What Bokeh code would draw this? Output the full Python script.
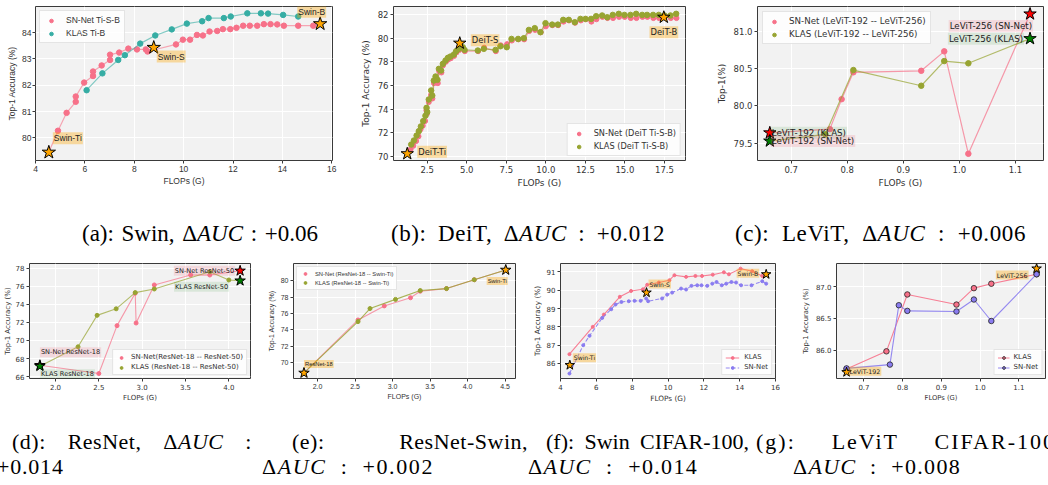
from bokeh.plotting import figure
from bokeh.models import Range1d, Label, FixedTicker, PrintfTickFormatter, Div
from bokeh.layouts import row, column
from bokeh.embed import file_html
from bokeh.resources import INLINE

# ---------------- data ----------------
# (a) Swin, ImageNet
swin_sn_flops = [4.54, 4.91, 5.26, 5.63, 5.63, 5.97, 6.33, 6.33, 6.68, 7.02, 7.02, 7.39, 7.76, 8.11,
                 8.47, 8.54, 9.69, 9.97, 10.26, 10.54, 10.78, 11.05, 11.36, 11.59, 11.89, 12.14,
                 12.41, 12.68, 12.98, 13.25, 13.52, 13.79, 14.06, 14.64, 15.25, 15.53]
swin_sn_acc = [79.45, 80.27, 80.95, 81.37, 81.57, 82.10, 82.35, 82.52, 82.75, 82.96, 83.16, 83.24,
               83.39, 83.36, 83.36, 83.28, 83.55, 83.73, 83.73, 83.91, 83.89, 84.04, 84.06, 84.13,
               84.13, 84.18, 84.26, 84.26, 84.26, 84.32, 84.32, 84.31, 84.26, 84.26, 84.26, 84.33]
swin_kl_flops = [6.07, 6.71, 7.35, 7.62, 8.24, 8.85, 9.52, 10.13, 10.75, 11.01, 11.63, 11.91,
                 12.58, 13.13, 13.42, 14.03, 14.64]
swin_kl_acc = [81.81, 82.45, 82.96, 83.14, 83.58, 83.89, 84.12, 84.34, 84.43, 84.55, 84.55, 84.61,
               84.73, 84.73, 84.72, 84.67, 84.61]
swin_anchor_flops = [4.54, 8.79, 15.53]
swin_anchor_acc = [79.45, 83.43, 84.33]
swin_anchor_names = ["Swin-Ti", "Swin-S", "Swin-B"]

# (b) DeiT
deit_kl_flops = [1.49, 1.66, 1.83, 1.97, 2.10, 2.25, 2.39, 2.50, 2.46, 2.60, 2.75, 2.82, 2.92, 3.03,
                 3.15, 3.24, 3.38, 3.49, 3.66, 3.81, 3.97, 4.19, 4.33, 4.50, 4.75, 4.86, 5.70, 6.08,
                 6.82, 7.13, 7.53, 7.83, 8.25, 8.61, 8.93, 9.30, 9.66, 9.98, 10.40, 10.76, 11.10,
                 11.45, 11.83, 12.19, 12.51, 12.86, 13.18, 13.56, 13.88, 14.23, 14.61, 14.97, 15.35,
                 15.71, 16.09, 16.40, 16.78, 17.14, 17.50, 17.88, 18.24]
deit_kl_acc = [71.01, 71.35, 71.77, 72.14, 72.54, 72.99, 73.44, 73.75, 74.11, 74.82, 75.58, 75.15,
               76.42, 76.76, 76.48, 77.41, 77.27, 77.83, 78.11, 78.34, 78.45, 78.62, 78.90, 79.10,
               79.24, 79.01, 78.96, 79.10, 79.01, 79.32, 79.24, 79.94, 79.94, 80.00, 80.70, 80.85,
               80.51, 81.27, 81.15, 81.15, 81.55, 81.55, 81.35, 81.63, 81.63, 81.63, 81.86, 81.92,
               81.77, 81.97, 82.06, 81.97, 81.97, 82.06, 81.97, 81.97, 81.97, 81.97, 81.92, 81.92, 82.06]
deit_sn_flops = [1.45, 1.62, 1.80, 1.95, 2.08, 2.22, 2.37, 2.48, 2.45, 2.60, 2.74, 2.83, 2.93, 3.05,
                 3.17, 3.26, 3.40, 3.50, 3.68, 3.83, 3.99, 4.20, 4.35, 4.52, 4.76, 4.88, 5.72, 6.10,
                 6.84, 7.15, 7.55, 7.85, 8.27, 8.63, 8.95, 9.32, 9.68, 10.00, 10.42, 10.78, 11.12,
                 11.47, 11.85, 12.21, 12.53, 12.88, 13.20, 13.58, 13.90, 14.25, 14.63, 14.99, 15.37,
                 15.73, 16.11, 16.42, 16.80, 17.16, 17.52, 17.90, 18.26]
deit_sn_acc = [70.6, 70.9, 71.3, 71.7, 72.3, 72.6, 73.0, 73.6, 73.9, 74.6, 75.2, 74.9, 76.2, 76.5,
               76.2, 77.2, 77.1, 77.7, 78.0, 78.2, 78.3, 78.5, 78.8, 79.0, 79.1, 78.9, 78.9, 79.2,
               78.9, 79.4, 79.5, 79.8, 79.9, 79.9, 80.6, 80.7, 80.5, 81.0, 81.1, 81.1, 81.4, 81.5,
               81.3, 81.5, 81.6, 81.4, 81.6, 81.8, 81.7, 81.7, 81.8, 81.8, 81.7, 81.7, 81.8, 81.8,
               81.7, 81.7, 81.8, 81.7, 81.7]
deit_anchor_flops = [1.24, 4.56, 17.46]
deit_anchor_acc = [70.23, 79.58, 81.77]
deit_anchor_names = ["DeiT-Ti", "DeiT-S", "DeiT-B"]

# (c) LeViT
levit_sn_flops = [0.662, 0.769, 0.790, 0.811, 0.932, 0.973, 1.016, 1.126]
levit_sn_acc = [79.64, 79.69, 80.09, 80.45, 80.47, 80.73, 79.36, 81.23]
levit_kl_flops = [0.662, 0.761, 0.811, 0.932, 0.973, 1.016, 1.126]
levit_kl_acc = [79.53, 79.62, 80.48, 80.27, 80.60, 80.57, 80.90]

# (d) ResNet
resnet_sn_flops = [1.82, 2.50, 2.71, 2.92, 2.93, 3.14, 3.56, 3.78, 4.13]
resnet_sn_acc = [67.25, 66.33, 71.65, 75.25, 71.94, 76.17, 77.27, 77.27, 77.74]
resnet_kl_flops = [1.82, 2.26, 2.48, 2.70, 2.92, 3.14, 3.78, 4.00, 4.13]
resnet_kl_acc = [67.15, 69.30, 72.79, 73.52, 75.32, 75.72, 77.63, 76.72, 76.64]

# (e) ResNet-Swin
rs_sn_flops = [1.82, 2.54, 2.89, 3.24, 3.37, 3.72, 4.09, 4.51]
rs_sn_acc = [68.72, 75.20, 76.92, 77.92, 78.72, 79.04, 80.12, 81.32]
rs_kl_flops = [1.82, 2.54, 2.70, 3.04, 3.37, 3.72, 4.09, 4.51]
rs_kl_acc = [68.72, 75.00, 76.60, 77.72, 78.80, 79.04, 80.12, 81.32]
rs_anchor_names = ["ResNet-18", "Swin-Ti"]

# (f) Swin CIFAR-100
cswin_kl_flops = [4.5, 5.8, 6.42, 7.31, 7.94, 8.6, 8.84, 9.49, 10.08, 10.36, 11.01, 11.53, 11.9,
                  12.5, 13.12, 13.4, 14.05, 14.7, 15.26]
cswin_kl_acc = [86.51, 88.0, 88.67, 89.64, 89.96, 90.05, 90.3, 90.42, 90.55, 90.82, 90.73, 90.78,
                90.78, 90.85, 90.98, 90.87, 91.18, 91.04, 90.78]
cswin_sn_flops = [4.5, 5.27, 5.62, 6.33, 6.83, 7.07, 7.4, 7.81, 8.13, 8.47, 8.78, 8.89, 9.67, 9.95,
                  10.23, 10.73, 11.01, 11.31, 11.63, 11.87, 12.19, 12.47, 12.71, 13.0, 13.25,
                  13.54, 13.8, 14.08, 14.66, 15.26, 15.48]
cswin_sn_acc = [85.45, 87.0, 87.51, 88.49, 88.96, 89.22, 89.36, 89.4, 89.42, 89.42, 89.55, 89.4,
                89.55, 89.76, 89.87, 90.09, 90.04, 90.24, 90.27, 90.27, 90.24, 90.36, 90.45,
                90.27, 90.36, 90.45, 90.42, 90.27, 90.27, 90.49, 90.36]
cswin_anchor_flops = [4.52, 8.80, 15.48]
cswin_anchor_acc = [85.91, 89.87, 90.87]
cswin_anchor_names = ["Swin-Ti", "Swin-S", "Swin-B"]

# (g) LeViT CIFAR-100
clevit_kl_flops = [0.655, 0.758, 0.812, 0.939, 0.984, 1.029, 1.146]
clevit_kl_acc = [85.70, 85.98, 86.88, 86.72, 86.98, 87.05, 87.20]
clevit_sn_flops = [0.655, 0.767, 0.790, 0.812, 0.939, 0.984, 1.029, 1.146]
clevit_sn_acc = [85.71, 85.77, 86.71, 86.62, 86.61, 86.80, 86.46, 87.20]
clevit_anchor_flops = [0.655, 1.146]
clevit_anchor_acc = [85.65, 87.29]
clevit_anchor_names = ["LeViT-192", "LeViT-256"]

# ticks
a_xticks = [4, 6, 8, 10, 12, 14, 16]; a_yticks = [80, 81, 82, 83, 84]
b_xticks = [2.5, 5.0, 7.5, 10.0, 12.5, 15.0, 17.5]; b_yticks = [70, 72, 74, 76, 78, 80, 82]
c_xticks = [0.7, 0.8, 0.9, 1.0, 1.1]; c_yticks = [79.5, 80.0, 80.5, 81.0]
d_xticks = [2.0, 2.5, 3.0, 3.5, 4.0]; d_yticks = [66, 68, 70, 72, 74, 76, 78]
e_xticks = [2.0, 2.5, 3.0, 3.5, 4.0, 4.5]; e_yticks = [70, 72, 74, 76, 78, 80]
f_xticks = [4, 6, 8, 10, 12, 14, 16]; f_yticks = [86, 87, 88, 89, 90, 91]
g_xticks = [0.7, 0.8, 0.9, 1.0, 1.1]; g_yticks = [86.0, 86.5, 87.0]

# captions: (text, left, right, letter-spacing)
caption_top = [("(a): Swin, &Delta;<i>AUC</i> : +0.06", 82, 318, 0),
               ("(b): DeiT, &Delta;<i>AUC</i> : +0.012", 391, 665, 0.6),
               ("(c): LeViT, &Delta;<i>AUC</i> : +0.006", 735, 1026, 0.6)]
caption_bot1 = [("(d): ResNet, &Delta;<i>AUC</i> :", 12, 252, 0.5),
                ("(e): ResNet-Swin,", 292, 528, 0.5),
                ("(f): Swin CIFAR-100,", 546, 749, 0),
                ("(g): LeViT CIFAR-100", 756, 1056, 2.0)]
caption_bot2 = [("+0.014", -3, 66, 0.8),
                ("&Delta;<i>AUC</i> : +0.002", 262, 434, 1.6),
                ("&Delta;<i>AUC</i> : +0.014", 528, 698, 1.3),
                ("&Delta;<i>AUC</i> : +0.008", 793, 961, 1.3)]

# ---------------- styling ----------------
PINK = "#f77189"
TEAL = "#36ada4"
OLIVE = "#97a431"
PURPLE = "#8a7cf0"
ORANGE = "#ffa500"
BG = "#f2f2f2"
TXT = "#333333"


def base(width, height, borders, xr, yr, font, tick_fs, lab_fs, xlabel, ylabel,
         xticks, yticks, xfmt, yfmt, stand):
    l, r, t, b = borders
    p = figure(width=width, height=height, title=None,
               x_range=Range1d(*xr), y_range=Range1d(*yr),
               output_backend="svg", toolbar_location=None,
               min_border_left=l, min_border_right=r, min_border_top=t, min_border_bottom=b,
               background_fill_color=BG, border_fill_color="white",
               outline_line_color="#3a3a3a", outline_line_width=1)
    p.grid.grid_line_color = "white"
    p.grid.grid_line_width = 1
    p.xaxis.ticker = FixedTicker(ticks=xticks)
    p.yaxis.ticker = FixedTicker(ticks=yticks)
    p.xaxis.formatter = PrintfTickFormatter(format=xfmt)
    p.yaxis.formatter = PrintfTickFormatter(format=yfmt)
    p.xaxis.axis_label = xlabel
    p.yaxis.axis_label = ylabel
    for ax in (p.xaxis[0], p.yaxis[0]):
        ax.axis_line_color = None
        ax.major_tick_line_color = "#3a3a3a"
        ax.major_tick_in = 0
        ax.major_tick_out = 3
        ax.minor_tick_line_color = None
        ax.major_label_text_font = font
        ax.major_label_text_font_size = f"{tick_fs}px"
        ax.major_label_text_color = TXT
        ax.axis_label_text_font = font
        ax.axis_label_text_font_size = f"{lab_fs}px"
        ax.axis_label_text_font_style = "normal"
        ax.axis_label_text_color = TXT
    p.xaxis.major_label_standoff = stand[0]
    p.xaxis.axis_label_standoff = stand[1]
    p.yaxis.major_label_standoff = stand[2]
    p.yaxis.axis_label_standoff = stand[3]
    return p


def style_legend(p, loc, font, fs, padding, gw, gh, standoff, spacing, lh, margin):
    lg = p.legend[0]
    lg.location = loc
    lg.label_text_font = font
    lg.label_text_font_size = f"{fs}px"
    lg.label_text_color = TXT
    lg.padding = padding
    lg.glyph_width = gw
    lg.glyph_height = gh
    lg.label_standoff = standoff
    lg.spacing = spacing
    lg.label_height = lh
    lg.margin = margin
    lg.border_line_color = "#cccccc"
    lg.background_fill_color = "white"
    lg.background_fill_alpha = 0.8


def tag(p, x, y, text, align, baseline, dx, dy, bg, alpha, font, fs):
    p.add_layout(Label(x=x, y=y, text=text, text_align=align, text_baseline=baseline,
                       x_offset=dx, y_offset=dy, text_font=font, text_font_size=f"{fs}px",
                       text_color="#222222", background_fill_color=bg,
                       background_fill_alpha=alpha, padding=1))


def stars(p, xs, ys, color, size):
    p.scatter(xs, ys, marker="star", size=size, fill_color=color, line_color="black", line_width=1)


# ---------------- (a) ----------------
FA = "Liberation Sans"
fa = base(345, 200, (35, 13, 4, 37), (4, 16.03), (79.14, 84.99), FA, 8.5, 8.5,
          "FLOPs (G)", "Top-1 Accuracy (%)", a_xticks, a_yticks, "%d", "%d", (2, 1, 1, 2))
fa.line(swin_sn_flops, swin_sn_acc, line_color=PINK, line_width=1.2, line_alpha=0.6)
fa.scatter(swin_sn_flops[1:-1], swin_sn_acc[1:-1], size=5.5, fill_color=PINK, line_color=PINK,
           legend_label="SN-Net Ti-S-B")
fa.line(swin_kl_flops, swin_kl_acc, line_color=TEAL, line_width=1.2, line_alpha=0.6)
fa.scatter(swin_kl_flops, swin_kl_acc, size=5.5, fill_color=TEAL, line_color=TEAL,
           legend_label="KLAS Ti-B")
stars(fa, swin_anchor_flops, swin_anchor_acc, ORANGE, 14)
style_legend(fa, "top_left", FA, 8.5, 4, 14, 9, 8, 3, 9, 4)
tag(fa, swin_anchor_flops[0], swin_anchor_acc[0], swin_anchor_names[0], "left", "bottom", 4, 8, ORANGE, 0.35, FA, 8.5)
tag(fa, swin_anchor_flops[1], swin_anchor_acc[1], swin_anchor_names[1], "left", "top", 3, -3, ORANGE, 0.35, FA, 8.5)
tag(fa, swin_anchor_flops[2], swin_anchor_acc[2], swin_anchor_names[2], "right", "bottom", 6, 6, ORANGE, 0.35, FA, 8.5)

# ---------------- (b) ----------------
FD = "DejaVu Sans"
fb = base(345, 200, (48, 5, 6, 40), (0.37, 18.83), (69.66, 82.68), FD, 8.5, 9,
          "FLOPs (G)", "Top-1 Accuracy (%)", b_xticks, b_yticks, "%.1f", "%d", (2, 2, 2, 4))
fb.line(deit_sn_flops, deit_sn_acc, line_color=PINK, line_width=1.2, line_alpha=0.6)
fb.scatter(deit_sn_flops, deit_sn_acc, size=5, fill_color=PINK, line_color=PINK,
           legend_label="SN-Net (DeiT Ti-S-B)")
fb.line(deit_kl_flops, deit_kl_acc, line_color=OLIVE, line_width=1.2, line_alpha=0.7)
fb.scatter(deit_kl_flops, deit_kl_acc, size=5.5, fill_color=OLIVE, line_color=OLIVE,
           legend_label="KLAS (DeiT Ti-S-B)")
stars(fb, deit_anchor_flops, deit_anchor_acc, ORANGE, 13)
style_legend(fb, "bottom_right", FD, 8.2, 4, 14, 9, 8, 3, 9, 4)
tag(fb, deit_anchor_flops[0], deit_anchor_acc[0], deit_anchor_names[0], "left", "middle", 10, 2, ORANGE, 0.35, FD, 8.4)
tag(fb, deit_anchor_flops[1], deit_anchor_acc[1], deit_anchor_names[1], "left", "middle", 11, 3, ORANGE, 0.35, FD, 8.4)
tag(fb, deit_anchor_flops[2], deit_anchor_acc[2], deit_anchor_names[2], "center", "top", 0, -9, ORANGE, 0.35, FD, 8.4)

# ---------------- (c) ----------------
fc = base(358, 200, (67, 5, 5, 40), (0.64, 1.15), (79.27, 81.33), FD, 8.5, 9,
          "FLOPs (G)", "Top-1(%)", c_xticks, c_yticks, "%.1f", "%.1f", (2, 2, 2, 4))
fc.line(levit_sn_flops, levit_sn_acc, line_color=PINK, line_width=1.2, line_alpha=0.7)
fc.scatter(levit_sn_flops[1:-1], levit_sn_acc[1:-1], size=5.5, fill_color=PINK, line_color=PINK,
           legend_label="SN-Net (LeViT-192 -- LeViT-256)")
fc.line(levit_kl_flops, levit_kl_acc, line_color=OLIVE, line_width=1.2, line_alpha=0.7)
fc.scatter(levit_kl_flops[1:-1], levit_kl_acc[1:-1], size=5.5, fill_color=OLIVE, line_color=OLIVE,
           legend_label="KLAS (LeViT-192 -- LeViT-256)")
stars(fc, [levit_sn_flops[0], levit_sn_flops[-1]], [levit_sn_acc[0], levit_sn_acc[-1]], "red", 13)
stars(fc, [levit_kl_flops[0], levit_kl_flops[-1]], [levit_kl_acc[0], levit_kl_acc[-1]], "green", 13)
style_legend(fc, "top_left", FD, 8.7, 4, 14, 9, 8, 3, 9, 5)
tag(fc, levit_sn_flops[-1], levit_sn_acc[-1], "LeViT-256 (SN-Net)", "right", "top", 3, -6, PINK, 0.2, FD, 8.7)
tag(fc, levit_kl_flops[-1], levit_kl_acc[-1], "LeViT-256 (KLAS)", "right", "middle", -6, 0, "green", 0.1, FD, 8.7)
tag(fc, levit_sn_flops[0], levit_sn_acc[0], "LeViT-192 (KLAS)", "left", "middle", 1, 0, "green", 0.1, FD, 8.7)
tag(fc, levit_kl_flops[0], levit_kl_acc[0], "LeViT-192 (SN-Net)", "left", "middle", 1, 0, PINK, 0.2, FD, 8.7)

# ---------------- (d) ----------------
fd = base(255, 155, (29, 5, 7, 32), (1.70, 4.25), (65.78, 78.55), FD, 7, 7,
          "FLOPs (G)", "Top-1 Accuracy (%)", d_xticks, d_yticks, "%.1f", "%d", (2, 1, 2, 1))
fd.line(resnet_sn_flops, resnet_sn_acc, line_color=PINK, line_width=1.1, line_alpha=0.7)
fd.scatter(resnet_sn_flops[1:-1], resnet_sn_acc[1:-1], size=4, fill_color=PINK, line_color=PINK,
           legend_label="SN-Net(ResNet-18 -- ResNet-50)")
fd.line(resnet_kl_flops, resnet_kl_acc, line_color=OLIVE, line_width=1.1, line_alpha=0.7)
fd.scatter(resnet_kl_flops[1:-1], resnet_kl_acc[1:-1], size=4, fill_color=OLIVE, line_color=OLIVE,
           legend_label="KLAS (ResNet-18 -- ResNet-50)")
stars(fd, [resnet_sn_flops[0], resnet_sn_flops[-1]], [resnet_sn_acc[0], resnet_sn_acc[-1]], "red", 11)
stars(fd, [resnet_kl_flops[0], resnet_kl_flops[-1]], [resnet_kl_acc[0], resnet_kl_acc[-1]], "green", 11)
style_legend(fd, "bottom_right", FD, 7, 3, 10, 7, 5, 2, 7, 3)
tag(fd, resnet_sn_flops[-1], resnet_sn_acc[-1], "SN-Net ResNet-50", "right", "middle", -5, 0, PINK, 0.2, FD, 6.6)
tag(fd, resnet_kl_flops[-1], resnet_kl_acc[-1], "KLAS ResNet-50", "right", "top", -11, -1, "green", 0.1, FD, 6.6)
tag(fd, resnet_sn_flops[0], resnet_sn_acc[0], "SN-Net ResNet-18", "left", "bottom", 0, 8, PINK, 0.2, FD, 6.6)
tag(fd, resnet_kl_flops[0], resnet_kl_acc[0], "KLAS ResNet-18", "left", "top", 0, -3, "green", 0.1, FD, 6.6)

# ---------------- (e) ----------------
fe = base(265, 155, (38, 5, 7, 31), (1.68, 4.64), (68.04, 82.11), FA, 7, 7,
          "FLOPs (G)", "Top-1 Accuracy (%)", e_xticks, e_yticks, "%.1f", "%d", (2, 1, 2, 3))
fe.line(rs_sn_flops, rs_sn_acc, line_color=PINK, line_width=1.1, line_alpha=0.7)
fe.scatter(rs_sn_flops[1:-1], rs_sn_acc[1:-1], size=4, fill_color=PINK, line_color=PINK,
           legend_label="SN-Net (ResNet-18 -- Swin-Ti)")
fe.line(rs_kl_flops, rs_kl_acc, line_color=OLIVE, line_width=1.1, line_alpha=0.8)
fe.scatter(rs_kl_flops[1:-1], rs_kl_acc[1:-1], size=4, fill_color=OLIVE, line_color=OLIVE,
           legend_label="KLAS (ResNet-18 -- Swin-Ti)")
stars(fe, [rs_kl_flops[0], rs_kl_flops[-1]], [rs_kl_acc[0], rs_kl_acc[-1]], ORANGE, 11)
style_legend(fe, "top_left", FA, 5.8, 3, 10, 7, 5, 2, 7, 3)
tag(fe, rs_kl_flops[0], rs_kl_acc[0], rs_anchor_names[0], "left", "bottom", 0, 5, ORANGE, 0.35, FA, 5.8)
tag(fe, rs_kl_flops[-1], rs_kl_acc[-1], rs_anchor_names[1], "right", "top", 2, -7, ORANGE, 0.35, FA, 5.8)

# ---------------- (f) ----------------
ff = base(260, 155, (40, 5, 8, 32), (4, 16), (85.18, 91.46), FD, 7, 7.3,
          "FLOPs (G)", "Top-1 Accuracy (%)", f_xticks, f_yticks, "%d", "%d", (2, 1, 2, 2))
ff.line(cswin_kl_flops, cswin_kl_acc, line_color=PINK, line_width=1.1, line_alpha=0.9,
        legend_label="KLAS")
ff.scatter(cswin_kl_flops, cswin_kl_acc, size=3, fill_color=PINK, line_color=PINK,
           legend_label="KLAS")
ff.line(cswin_sn_flops, cswin_sn_acc, line_color=PURPLE, line_width=1.1, line_alpha=0.9,
        line_dash="4 2", legend_label="SN-Net")
ff.scatter(cswin_sn_flops, cswin_sn_acc, size=3, fill_color=PURPLE, line_color=PURPLE,
           legend_label="SN-Net")
stars(ff, cswin_anchor_flops, cswin_anchor_acc, ORANGE, 10)
style_legend(ff, "bottom_right", FD, 6.8, 3, 14, 7, 5, 2, 7, 3)
tag(ff, cswin_anchor_flops[0], cswin_anchor_acc[0], cswin_anchor_names[0], "left", "bottom", 3, 3, ORANGE, 0.35, FD, 6.1)
tag(ff, cswin_anchor_flops[1], cswin_anchor_acc[1], cswin_anchor_names[1], "left", "bottom", 2, 4, ORANGE, 0.35, FD, 6.1)
tag(ff, cswin_anchor_flops[2], cswin_anchor_acc[2], cswin_anchor_names[2], "right", "middle", -7, 1, ORANGE, 0.35, FD, 6.1)

# ---------------- (g) ----------------
fg = base(268, 155, (56, 3, 8, 32), (0.629, 1.169), (85.55, 87.37), FD, 7, 6.8,
          "FLOPs (G)", "Top-1 Accuracy (%)", g_xticks, g_yticks, "%.1f", "%.1f", (2, 1, 2, 3))
fg.line(clevit_kl_flops, clevit_kl_acc, line_color=PINK, line_width=1.1, line_alpha=0.9,
        legend_label="KLAS")
fg.scatter(clevit_kl_flops, clevit_kl_acc, size=5.5, fill_color=PINK, line_color="#222222",
           line_width=0.8, legend_label="KLAS")
fg.line(clevit_sn_flops, clevit_sn_acc, line_color=PURPLE, line_width=1.1, line_alpha=0.9,
        legend_label="SN-Net")
fg.scatter(clevit_sn_flops, clevit_sn_acc, size=5.5, fill_color=PURPLE, line_color="#222222",
           line_width=0.8, legend_label="SN-Net")
stars(fg, clevit_anchor_flops, clevit_anchor_acc, ORANGE, 10)
style_legend(fg, "bottom_right", FD, 7, 3, 12, 7, 4, 2, 7, 3)
tag(fg, clevit_anchor_flops[0], clevit_anchor_acc[0], clevit_anchor_names[0], "left", "middle", 2, 1, ORANGE, 0.35, FD, 6.3)
tag(fg, clevit_anchor_flops[1], clevit_anchor_acc[1], clevit_anchor_names[1], "right", "top", -8, -2, ORANGE, 0.35, FD, 6.3)


# ---------------- captions ----------------
HOST_CSS = ":host{line-height:0;font-size:0;margin:0;padding:0;overflow:hidden;} div{margin:0;padding:0;}"


def caption_div(height, lines):
    parts = []
    for items, top, fs in lines:
        for txt, x0, x1, ls in items:
            parts.append(
                f'<div style="position:absolute;left:{x0}px;top:{top}px;width:{x1 - x0}px;'
                f'text-align:justify;text-align-last:justify;letter-spacing:{ls}px;'
                f'font-size:{fs}px;line-height:{fs}px;white-space:normal;">'
                f'{txt}</div>')
    html = (f'<div style="position:relative;display:block;width:1048px;height:{height}px;overflow:hidden;'
            f'font-family:\'Liberation Serif\',serif;color:#000;font-size:0;line-height:0;">'
            + "".join(parts) + '</div>')
    return Div(text=html, width=1048, height=height, stylesheets=[HOST_CSS])


cap1 = caption_div(55, [(caption_top, 22, 23)])
cap2 = caption_div(75, [(caption_bot1, 21, 22), (caption_bot2, 46, 22)])

layout = column(row(fa, fb, fc, spacing=0), cap1, row(fd, fe, ff, fg, spacing=0), cap2, spacing=0)

open("out.html", "w").write(file_html(layout, INLINE))
